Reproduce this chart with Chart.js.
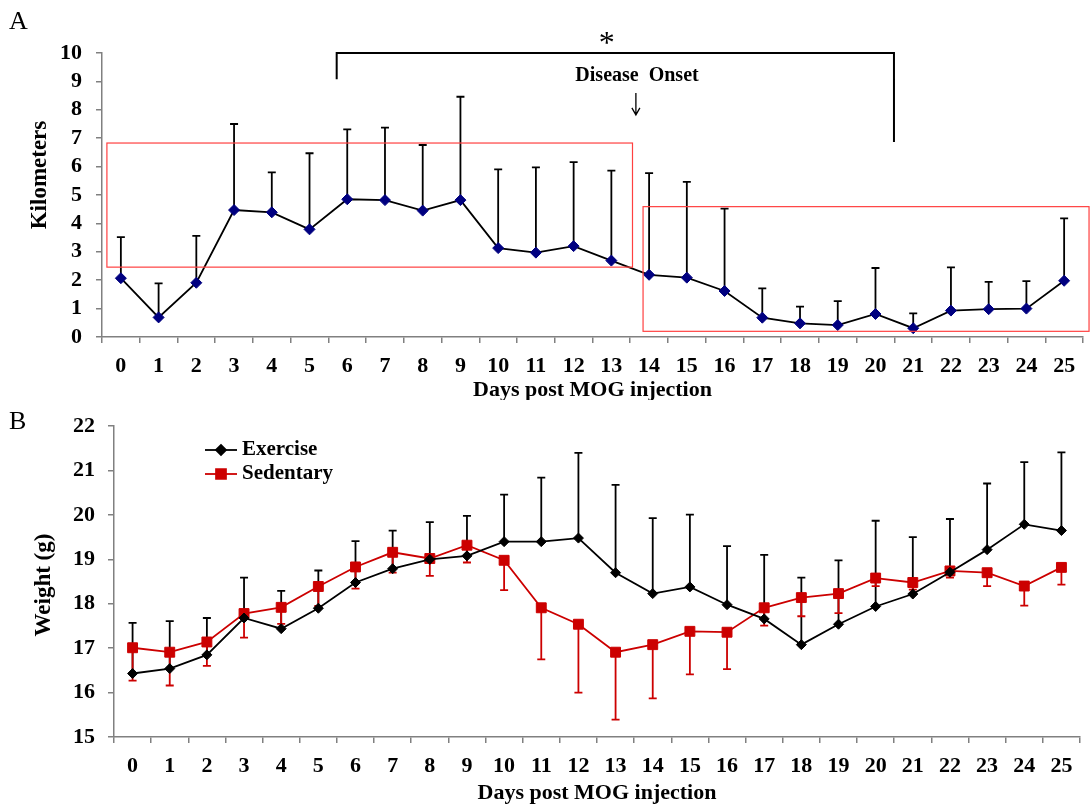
<!DOCTYPE html>
<html>
<head>
<meta charset="utf-8">
<script src="https://cdn.jsdelivr.net/npm/chart.js@4.4.0/dist/chart.umd.min.js"></script>
<style>
  body { margin: 0; background: #fff; }
  #wrap { position: relative; width: 1091px; height: 806px; overflow: hidden; }
  canvas { position: absolute; left: 0; }
  .panel { position: absolute; font-family: "Liberation Serif", serif; font-size: 26px; line-height: 26px; }
</style>
</head>
<body>
<div id="wrap">
  <canvas id="chartA" width="1091" height="400" style="top:0"></canvas>
  <canvas id="chartB" width="1091" height="406" style="top:400px"></canvas>
  <div class="panel" style="left:9px; top:8px">A</div>
  <div class="panel" style="left:9px; top:408px">B</div>
</div>
<script>
// days post MOG injection
const days = ['0','1','2','3','4','5','6','7','8','9','10','11','12','13','14','15','16','17','18','19','20','21','22','23','24','25'];

// panel A: running distance (km), mean and top of error bar
const kmMean = [2.07, 0.69, 1.91, 4.47, 4.39, 3.79, 4.85, 4.82, 4.45, 4.82, 3.13, 2.97, 3.2, 2.69, 2.19, 2.09, 1.62, 0.68, 0.48, 0.42, 0.81, 0.31, 0.93, 0.98, 1.0, 1.98];
const kmTop  = [3.52, 1.89, 3.56, 7.5, 5.8, 6.47, 7.31, 7.37, 6.76, 8.46, 5.9, 5.97, 6.16, 5.86, 5.77, 5.46, 4.52, 1.71, 1.07, 1.26, 2.43, 0.83, 2.45, 1.94, 1.97, 4.18];

// panel B: body weight (g)
const exMean  = [16.43, 16.54, 16.85, 17.68, 17.44, 17.9, 18.48, 18.79, 19.0, 19.08, 19.4, 19.4, 19.48, 18.7, 18.23, 18.38, 17.98, 17.66, 17.08, 17.54, 17.94, 18.22, 18.71, 19.22, 19.79, 19.65];
const exTop   = [17.57, 17.61, 17.68, 18.59, 18.29, 18.75, 19.41, 19.65, 19.84, 19.98, 20.46, 20.84, 21.4, 20.68, 19.93, 20.01, 19.3, 19.1, 18.59, 18.98, 19.87, 19.5, 19.91, 20.71, 21.19, 21.41];
const sedMean = [17.01, 16.91, 17.14, 17.78, 17.92, 18.39, 18.83, 19.16, 19.02, 19.32, 18.98, 17.91, 17.54, 16.91, 17.08, 17.38, 17.36, 17.91, 18.14, 18.23, 18.58, 18.48, 18.74, 18.7, 18.4, 18.82];
const sedLow  = [16.27, 16.16, 16.6, 17.24, 17.55, 17.95, 18.34, 18.7, 18.63, 18.93, 18.31, 16.75, 16.0, 15.39, 15.87, 16.41, 16.53, 17.51, 17.72, 17.79, 18.4, 18.32, 18.59, 18.4, 17.96, 18.43];

const serif = 'Liberation Serif';
const axisGray = '#808080';
const red = '#cc0000';

function errorBars(sets) {
  return {
    id: 'errorBars',
    beforeDatasetsDraw(chart) {
      const { ctx, scales: { x, y } } = chart;
      ctx.save();
      sets.forEach(s => {
        ctx.strokeStyle = s.color;
        ctx.lineWidth = 1.8;
        s.mean.forEach((m, i) => {
          const px = x.getPixelForValue(i);
          const y0 = y.getPixelForValue(m);
          const y1 = y.getPixelForValue(s.end[i]);
          ctx.beginPath();
          ctx.moveTo(px, y0);
          ctx.lineTo(px, y1);
          ctx.moveTo(px - 4, y1);
          ctx.lineTo(px + 4, y1);
          ctx.stroke();
        });
      });
      ctx.restore();
    }
  };
}

function yTitle(text, cx, cy) {
  return {
    id: 'yTitle',
    afterDraw(chart) {
      const ctx = chart.ctx;
      ctx.save();
      ctx.translate(cx, cy);
      ctx.rotate(-Math.PI / 2);
      ctx.font = 'bold 23px ' + serif;
      ctx.fillStyle = '#000';
      ctx.textAlign = 'center';
      ctx.textBaseline = 'middle';
      ctx.fillText(text, 0, 0);
      ctx.restore();
    }
  };
}

// boxes, bracket and onset label of panel A, in axis units
const annotA = {
  id: 'annotA',
  afterDraw(chart) {
    const { ctx, scales: { x, y } } = chart;
    const X = v => x.getPixelForValue(v);
    const Y = v => y.getPixelForValue(v);
    ctx.save();
    ctx.strokeStyle = '#ff4040';
    ctx.lineWidth = 1.2;
    ctx.strokeRect(X(-0.37), Y(6.83), X(13.56) - X(-0.37), Y(2.46) - Y(6.83));
    ctx.strokeRect(X(13.84), Y(4.59), X(25.66) - X(13.84), Y(0.2) - Y(4.59));

    ctx.strokeStyle = '#000';
    ctx.lineWidth = 2;
    ctx.beginPath();
    ctx.moveTo(X(5.72), Y(9.08));
    ctx.lineTo(X(5.72), Y(10));
    ctx.lineTo(X(20.49), Y(10));
    ctx.lineTo(X(20.49), Y(6.87));
    ctx.stroke();

    ctx.fillStyle = '#000';
    ctx.textAlign = 'center';
    ctx.textBaseline = 'middle';
    ctx.font = '32px ' + serif;
    ctx.fillText('*', X(12.88), Y(10.3));
    ctx.font = 'bold 20px ' + serif;
    ctx.fillText('Disease  Onset', X(13.68), Y(9.2));

    // arrow
    const ax = X(13.65), ay0 = Y(8.59), ay1 = Y(7.82);
    ctx.lineWidth = 1.3;
    ctx.beginPath();
    ctx.moveTo(ax, ay0);
    ctx.lineTo(ax, ay1);
    ctx.moveTo(ax - 4, ay1 - 7);
    ctx.lineTo(ax, ay1);
    ctx.lineTo(ax + 4, ay1 - 7);
    ctx.stroke();
    ctx.restore();
  }
};

const legendB = {
  id: 'legendB',
  afterDraw(chart) {
    const ctx = chart.ctx;
    const rows = [
      { label: 'Exercise', color: '#000', style: 'rectRot', r: 5, y: 50 },
      { label: 'Sedentary', color: red, style: 'rect', r: 7, y: 74 }
    ];
    ctx.save();
    rows.forEach(row => {
      ctx.strokeStyle = row.color;
      ctx.fillStyle = row.color;
      ctx.lineWidth = 1.8;
      ctx.beginPath();
      ctx.moveTo(205, row.y);
      ctx.lineTo(237, row.y);
      ctx.stroke();
      Chart.helpers.drawPoint(ctx, { pointStyle: row.style, radius: row.r, borderWidth: 1 }, 221, row.y);
      ctx.fillStyle = '#000';
      ctx.font = 'bold 21px ' + serif;
      ctx.textAlign = 'left';
      ctx.textBaseline = 'middle';
      ctx.fillText(row.label, 242, row.y);
    });
    ctx.restore();
  }
};

function xAxis(height, titlePad) {
  return {
    type: 'category',
    offset: true,
    grid: { offset: true, drawOnChartArea: false, tickLength: 6, color: axisGray, lineWidth: 1.5 },
    border: { color: axisGray, width: 1.5 },
    ticks: { color: '#000', padding: 10, maxRotation: 0, autoSkip: false, font: { family: serif, size: 22, weight: 'bold' } },
    title: { display: true, text: 'Days post MOG injection', color: '#000', padding: { top: 0, bottom: titlePad },
             font: { family: serif, size: 22, weight: 'bold', lineHeight: 1 } },
    afterFit: s => { s.height = height; }
  };
}

function yAxis(min, max, width, pad) {
  return {
    min: min, max: max,
    grid: { drawOnChartArea: false, tickLength: 6, color: axisGray, lineWidth: 1.5 },
    border: { color: axisGray, width: 1.5 },
    ticks: { stepSize: 1, autoSkip: false, color: '#000', padding: pad, font: { family: serif, size: 22, weight: 'bold' } },
    afterFit: s => { s.width = width; }
  };
}

const common = {
  responsive: false,
  animation: false,
  devicePixelRatio: 1,
  plugins: { legend: { display: false }, tooltip: { enabled: false } }
};

new Chart(document.getElementById('chartA'), {
  type: 'line',
  data: {
    labels: days,
    datasets: [{
      data: kmMean,
      borderColor: '#000',
      borderWidth: 1.8,
      tension: 0,
      pointStyle: 'rectRot',
      pointRadius: 5.5,
      pointBackgroundColor: '#000080',
      pointBorderColor: '#000080',
      pointBorderWidth: 1
    }]
  },
  options: Object.assign({}, common, {
    layout: { padding: { top: 53, right: 8, bottom: 0, left: 0 } },
    scales: { x: xAxis(63, -1), y: yAxis(0, 10, 102, 14) }
  }),
  plugins: [errorBars([{ mean: kmMean, end: kmTop, color: '#000' }]), yTitle('Kilometers', 40, 175), annotA]
});

new Chart(document.getElementById('chartB'), {
  type: 'line',
  data: {
    labels: days,
    datasets: [{
      label: 'Exercise',
      data: exMean,
      borderColor: '#000',
      borderWidth: 1.8,
      tension: 0,
      pointStyle: 'rectRot',
      pointRadius: 5,
      pointBackgroundColor: '#000',
      pointBorderColor: '#000',
      pointBorderWidth: 1
    }, {
      label: 'Sedentary',
      data: sedMean,
      borderColor: red,
      borderWidth: 1.8,
      tension: 0,
      pointStyle: 'rect',
      pointRadius: 7,
      pointBackgroundColor: red,
      pointBorderColor: red,
      pointBorderWidth: 1
    }]
  },
  options: Object.assign({}, common, {
    layout: { padding: { top: 19, right: 11, bottom: 0, left: 0 } },
    scales: { x: xAxis(69, 2), y: yAxis(15, 22, 114, 13) }
  }),
  plugins: [errorBars([{ mean: exMean, end: exTop, color: '#000' }, { mean: sedMean, end: sedLow, color: red }]),
            yTitle('Weight (g)', 44, 185), legendB]
});
</script>
</body>
</html>
